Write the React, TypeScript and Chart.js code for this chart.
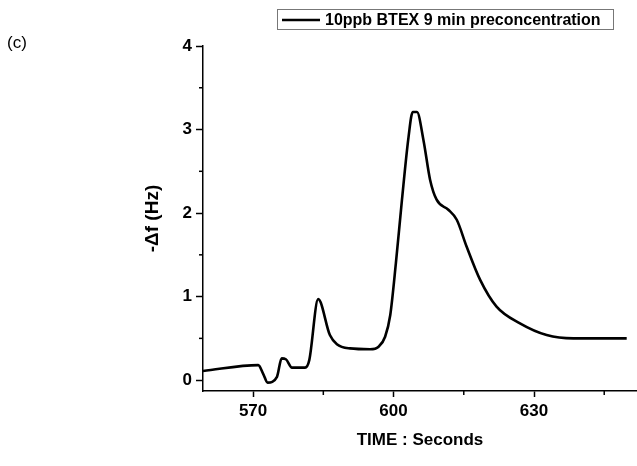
import React, { useEffect, useRef } from "react";
import { Chart, registerables } from "chart.js";

Chart.register(...registerables);

const seriesLabel = "10ppb BTEX 9 min preconcentration";
const panelLabel = "(c)";
const xTitle = "TIME : Seconds";
const yTitle = "-\u0394f (Hz)";

const timeSec = [
  559.3, 571.1, 572.2, 573.1, 575.1, 576.1, 577.0, 578.3, 581.1, 582.0,
  583.9, 586.4, 587.9, 590.7, 595.0, 596.8, 598.2, 599.3, 600.5, 601.8,
  603.2, 604.1, 605.0, 606.4, 607.8, 609.2, 611.7, 613.5, 615.6, 618.5,
  622.0, 627.0, 632.7, 638.4, 649.8,
];
const deltaF = [
  0.11, 0.18, 0.07, -0.03, 0.04, 0.26, 0.25, 0.15, 0.15, 0.24,
  0.97, 0.54, 0.43, 0.38, 0.37, 0.40, 0.52, 0.78, 1.40, 2.16,
  2.91, 3.21, 3.21, 2.87, 2.40, 2.16, 2.04, 1.92, 1.60, 1.20,
  0.88, 0.68, 0.54, 0.50, 0.50,
];

const xMajorTicks = [570, 600, 630];
const xMinorTicks = [585, 615, 645];
const yMajorTicks = [0, 1, 2, 3, 4];
const yMinorTicks = [0.5, 1.5, 2.5, 3.5];

const FONT = "'Liberation Sans', Arial, sans-serif";

const extras = {
  id: "extras",
  afterDraw(chart: any) {
    const { ctx, chartArea } = chart;
    const xs = chart.scales.x;
    const ys = chart.scales.y;
    ctx.save();
    ctx.strokeStyle = "#000";
    ctx.lineWidth = 1.5;
    for (const v of yMinorTicks) {
      const py = ys.getPixelForValue(v);
      ctx.beginPath();
      ctx.moveTo(chartArea.left - 4, py);
      ctx.lineTo(chartArea.left, py);
      ctx.stroke();
    }
    for (const v of xMinorTicks) {
      const px = xs.getPixelForValue(v);
      if (px > chartArea.right) continue;
      ctx.beginPath();
      ctx.moveTo(px, chartArea.bottom);
      ctx.lineTo(px, chartArea.bottom + 4);
      ctx.stroke();
    }
    // legend box
    ctx.lineWidth = 1;
    ctx.strokeStyle = "#777";
    ctx.strokeRect(277.5, 9.5, 336, 20);
    ctx.strokeStyle = "#000";
    ctx.lineWidth = 2.5;
    ctx.beginPath();
    ctx.moveTo(282, 20);
    ctx.lineTo(320, 20);
    ctx.stroke();
    ctx.fillStyle = "#000";
    ctx.font = "bold 16px " + FONT;
    ctx.textAlign = "left";
    ctx.textBaseline = "middle";
    ctx.fillText(chart.data.datasets[0].label, 325, 20.5);
    // panel label
    ctx.font = "17px " + FONT;
    ctx.fillText(panelLabel, 7, 43);
    ctx.restore();
  },
};

export default function App() {
  const ref = useRef<HTMLCanvasElement | null>(null);
  useEffect(() => {
    if (!ref.current) return;
    const chart = new Chart(ref.current, {
      type: "line",
      data: {
        datasets: [
          {
            label: seriesLabel,
            data: timeSec.map((t, i) => ({ x: t, y: deltaF[i] })),
            borderColor: "#000",
            borderWidth: 2.6,
            pointRadius: 0,
            cubicInterpolationMode: "monotone",
            fill: false,
          },
        ],
      },
      options: {
        animation: false,
        responsive: false,
        layout: { padding: { left: 0, right: 0, top: 46, bottom: 0 } },
        plugins: { legend: { display: false }, tooltip: { enabled: false } },
        scales: {
          x: {
            type: "linear",
            min: 559.3,
            max: 652,
            afterBuildTicks: (s: any) => {
              s.ticks = xMajorTicks.map((v) => ({ value: v }));
            },
            afterFit: (s: any) => {
              s.height = 75;
            },
            border: { display: true, color: "#000", width: 1.5 },
            grid: {
              drawOnChartArea: false,
              drawTicks: true,
              tickLength: 6,
              color: "#000",
              tickWidth: 1.5,
            },
            ticks: {
              color: "#000",
              padding: 4,
              maxRotation: 0,
              font: { family: FONT, size: 17, weight: "bold" },
            },
            title: {
              display: true,
              text: xTitle,
              color: "#000",
              font: { family: FONT, size: 17, weight: "bold" },
              padding: { top: 0, bottom: 15 },
            },
          },
          y: {
            type: "linear",
            min: -0.13,
            max: 4,
            afterBuildTicks: (s: any) => {
              s.ticks = yMajorTicks.map((v) => ({ value: v }));
            },
            afterFit: (s: any) => {
              s.width = 203;
            },
            border: { display: true, color: "#000", width: 1.5 },
            grid: {
              drawOnChartArea: false,
              drawTicks: true,
              tickLength: 7,
              color: "#000",
              tickWidth: 1.5,
            },
            ticks: {
              color: "#000",
              padding: 4,
              font: { family: FONT, size: 17, weight: "bold" },
            },
            title: {
              display: true,
              text: yTitle,
              color: "#000",
              font: { family: FONT, size: 19, weight: "bold" },
              padding: { top: 141, bottom: 0 },
            },
          },
        },
      },
      plugins: [extras],
    } as any);
    return () => chart.destroy();
  }, []);
  return (
    <div style={{ position: "fixed", left: 0, top: 0, width: 637, height: 466, background: "#fff" }}>
      <canvas ref={ref} width={637} height={466} style={{ display: "block" }} />
    </div>
  );
}
